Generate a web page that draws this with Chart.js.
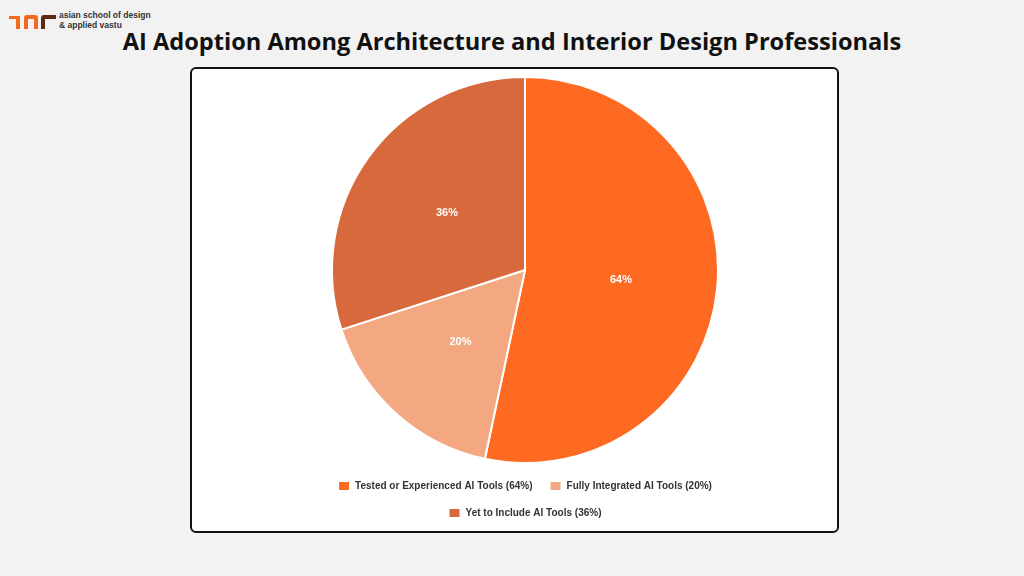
<!DOCTYPE html>
<html><head><meta charset="utf-8">
<script src="https://cdn.jsdelivr.net/npm/chart.js@4/dist/chart.umd.min.js"></script>
<style>
html,body{margin:0;padding:0;width:1024px;height:576px;background:#f2f2f2;overflow:hidden;font-family:"Liberation Sans",Arial,sans-serif;}
#title{position:absolute;left:0;width:1024px;top:25px;text-align:center;font-family:"Open Sans",sans-serif;font-weight:700;font-size:23.6px;color:#111;}
#box{position:absolute;left:190px;top:67px;width:645px;height:462px;background:#fff;border:2px solid #111;border-radius:6px;}
#wrap{position:absolute;left:295px;top:70px;width:460px;height:458px;}
#logo{position:absolute;left:8px;top:8px;width:200px;height:24px;}
#logo .t{position:absolute;left:51px;font-size:8.5px;font-weight:700;color:#333;line-height:10px;}
</style></head><body>
<div id="logo">
 <svg width="50" height="22" style="position:absolute;left:0;top:2px">
  <path d="M1 6 H12 V19 H8 V9 H1 Z" fill="#f26a22"/>
  <path d="M16 19 V8 Q16 5 19 5 H27 Q30 5 30 8 V19 H26 V9 H20 V19 Z" fill="#f26a22"/>
  <path d="M33 19 V8 Q33 5 36 5 H48 V9 H37 V19 Z" fill="#5a2a12"/>
 </svg>
 <div class="t" style="top:2px">asian school of design</div>
 <div class="t" style="top:12px">&amp; applied vastu</div>
</div>
<div id="title">AI Adoption Among Architecture and Interior Design Professionals</div>
<div id="box"></div>
<div id="wrap"><canvas id="c"></canvas></div>
<script>
const categories = ["Tested or Experienced AI Tools (64%)", "Fully Integrated AI Tools (20%)", "Yet to Include AI Tools (36%)"];
const values = [64, 20, 36];
const valueLabels = ["64%", "20%", "36%"];
const colors = ["#ff6a22", "#f3a881", "#d7693d"];

const labelPlugin = {
  id: 'sliceLabels',
  afterDatasetsDraw(chart) {
    const ctx = chart.ctx;
    const meta = chart.getDatasetMeta(0);
    ctx.save();
    ctx.fillStyle = '#ffffff';
    ctx.font = 'bold 11px "Liberation Sans", Arial, sans-serif';
    ctx.textAlign = 'center';
    ctx.textBaseline = 'middle';
    meta.data.forEach((arc, i) => {
      const p = arc.getCenterPoint();
      ctx.fillText(valueLabels[i], p.x, p.y);
    });
    ctx.restore();
  }
};

new Chart(document.getElementById('c'), {
  type: 'pie',
  data: {
    labels: categories,
    datasets: [{ data: values, backgroundColor: colors, borderColor: '#ffffff', borderWidth: 2 }]
  },
  options: {
    responsive: true,
    maintainAspectRatio: false,
    animation: false,
    layout: { padding: { top: 6, bottom: 0 } },
    plugins: {
      tooltip: { enabled: false },
      legend: {
        position: 'bottom',
        labels: {
          boxWidth: 12, boxHeight: 10, padding: 17,
          color: '#333',
          font: { family: '"Liberation Sans", Arial, sans-serif', size: 10, weight: 'bold' }
        }
      }
    }
  },
  plugins: [labelPlugin]
});
</script>
</body></html>
